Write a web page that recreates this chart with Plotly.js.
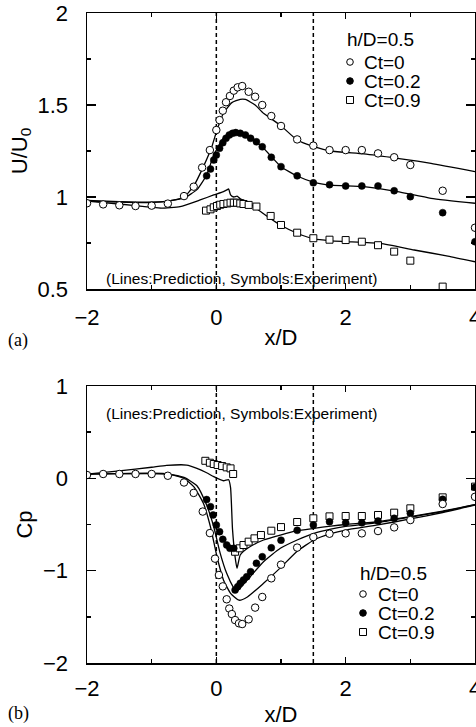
<!DOCTYPE html>
<html>
<head>
<meta charset="utf-8">
<script src="https://cdn.plot.ly/plotly-3.0.1.min.js"></script>
<style>html,body{margin:0;padding:0;background:#fff;overflow:hidden;}#chart{width:476px;height:727px;}</style>
</head>
<body>
<div id="chart"></div>
<script>
// ---------- DATA ----------
// (a) U/U0 experiment
const topCt0X = [-2,-1.75,-1.5,-1.25,-1,-0.75,-0.5,-0.35,-0.22,-0.1,0,0.05,0.1,0.15,0.21,0.27,0.33,0.4,0.5,0.6,0.71,0.85,1.0,1.25,1.5,1.75,2.0,2.25,2.5,2.75,3.0,3.5,4.0];
const topCt0Y = [0.966,0.96,0.955,0.951,0.953,0.964,1.005,1.056,1.16,1.255,1.364,1.418,1.469,1.515,1.549,1.578,1.596,1.603,1.572,1.545,1.50,1.44,1.386,1.313,1.279,1.255,1.255,1.255,1.237,1.216,1.174,1.034,0.833];
const topCt02X = [-0.15,-0.09,-0.04,0,0.05,0.1,0.15,0.2,0.25,0.3,0.37,0.45,0.53,0.62,0.71,0.85,1.0,1.25,1.5,1.75,2.0,2.25,2.5,2.75,3.0,3.5,4.0];
const topCt02Y = [1.115,1.152,1.201,1.228,1.265,1.295,1.319,1.337,1.346,1.35,1.346,1.337,1.319,1.30,1.273,1.216,1.165,1.115,1.077,1.067,1.06,1.06,1.06,1.034,1.002,0.915,0.757];
const topCt09X = [-0.16,-0.09,-0.04,0.01,0.06,0.11,0.17,0.22,0.27,0.32,0.37,0.42,0.5,0.62,0.84,1.0,1.25,1.5,1.75,2.0,2.25,2.5,2.75,3.0,3.5];
const topCt09Y = [0.926,0.933,0.944,0.951,0.958,0.962,0.965,0.969,0.969,0.969,0.965,0.962,0.957,0.948,0.897,0.848,0.806,0.776,0.768,0.766,0.757,0.738,0.703,0.654,0.513];
// (a) U/U0 prediction
const topPredCt0X = [-2,-1.5,-1,-0.75,-0.5,-0.35,-0.2,-0.07,0.01,0.11,0.24,0.37,0.45,0.6,0.73,0.99,1.25,1.51,1.77,2.28,2.8,3.32,4.0];
const topPredCt0Y = [0.978,0.972,0.97,0.977,1.0,1.06,1.165,1.273,1.364,1.455,1.513,1.531,1.53,1.5,1.455,1.39,1.31,1.274,1.25,1.234,1.21,1.183,1.138];
const topPredCt02X = [-2,-1.5,-1,-0.75,-0.5,-0.3,-0.15,-0.04,0.11,0.27,0.4,0.55,0.73,1.0,1.25,1.51,1.77,2.28,2.8,3.32,4.0];
const topPredCt02Y = [0.982,0.975,0.972,0.978,0.995,1.04,1.12,1.228,1.319,1.35,1.345,1.315,1.265,1.165,1.114,1.08,1.065,1.056,1.029,0.993,0.966];
const topPredCt09X = [-2,-1.5,-1,-0.85,-0.56,-0.25,-0.04,0.11,0.17,0.19,0.22,0.27,0.32,0.37,0.48,0.63,0.84,0.99,1.25,1.51,1.77,2.0,2.54,3.06,3.58,4.0];
const topPredCt09Y = [0.978,0.962,0.944,0.94,0.948,0.984,1.011,1.029,1.04,1.044,1.012,1.0,1.005,0.99,0.975,0.935,0.882,0.848,0.803,0.772,0.762,0.758,0.748,0.712,0.679,0.648];

// (b) Cp experiment
const botCt0X = [-2,-1.75,-1.5,-1.25,-1,-0.75,-0.5,-0.35,-0.21,-0.1,-0.02,0.04,0.1,0.16,0.2,0.24,0.29,0.35,0.4,0.5,0.6,0.71,0.85,1.0,1.25,1.5,1.75,2.0,2.25,2.5,2.75,3.0,3.5,4.0];
const botCt0Y = [0.036,0.047,0.047,0.047,0.047,0.028,-0.045,-0.158,-0.36,-0.593,-0.87,-1.047,-1.17,-1.31,-1.41,-1.47,-1.535,-1.57,-1.578,-1.527,-1.40,-1.285,-1.083,-0.935,-0.75,-0.636,-0.60,-0.596,-0.596,-0.571,-0.531,-0.452,-0.278,-0.2];
const botCt02X = [-0.15,-0.09,-0.05,0,0.05,0.1,0.16,0.21,0.27,0.29,0.33,0.37,0.42,0.47,0.53,0.62,0.71,0.85,1.0,1.25,1.5,1.75,2.0,2.25,2.5,2.75,3.0,3.5,4.0];
const botCt02Y = [-0.23,-0.307,-0.397,-0.506,-0.578,-0.661,-0.722,-0.758,-0.758,-1.21,-1.174,-1.137,-1.101,-1.066,-1.011,-0.92,-0.849,-0.752,-0.67,-0.563,-0.506,-0.47,-0.481,-0.481,-0.462,-0.433,-0.379,-0.227,-0.097];
const botCt09X = [-0.17,-0.1,-0.04,0.02,0.09,0.16,0.22,0.26,0.29,0.36,0.42,0.5,0.59,0.69,0.85,1.0,1.25,1.5,1.75,2.0,2.25,2.5,2.75,3.0,3.5,4.0];
const botCt09Y = [0.19,0.169,0.155,0.144,0.133,0.119,0.108,0.047,-0.795,-0.758,-0.722,-0.686,-0.65,-0.614,-0.567,-0.528,-0.473,-0.433,-0.412,-0.408,-0.408,-0.397,-0.372,-0.325,-0.206,-0.09];
// (b) Cp prediction
const botPredCt0X = [-2,-1.5,-1,-0.75,-0.5,-0.35,-0.2,-0.09,0.01,0.11,0.22,0.35,0.48,0.73,0.99,1.25,1.51,1.77,2.0,2.5,3.0,3.5,4.0];
const botPredCt0Y = [0.045,0.052,0.055,0.048,0.0,-0.09,-0.27,-0.527,-0.849,-1.10,-1.245,-1.32,-1.285,-1.137,-0.97,-0.79,-0.668,-0.6,-0.56,-0.505,-0.44,-0.37,-0.29];
const botPredCt02X = [-2,-1.5,-1,-0.75,-0.5,-0.3,-0.15,-0.04,0.06,0.16,0.27,0.31,0.48,0.73,0.99,1.25,1.51,1.77,2.0,2.5,3.0,3.5,4.0];
const botPredCt02Y = [0.045,0.05,0.052,0.046,0.01,-0.08,-0.29,-0.524,-0.812,-1.029,-1.19,-1.228,-1.10,-0.903,-0.758,-0.668,-0.596,-0.55,-0.52,-0.48,-0.42,-0.36,-0.285];
const botPredCt09X = [-2,-1.5,-1,-0.77,-0.46,-0.3,-0.15,-0.04,0.11,0.19,0.22,0.25,0.29,0.32,0.37,0.5,0.73,0.99,1.25,1.51,1.77,2.0,2.5,3.0,3.5,4.0];
const botPredCt09Y = [0.045,0.08,0.12,0.14,0.144,0.108,0.06,0.018,-0.026,-0.015,-0.1,-0.55,-0.85,-0.975,-0.83,-0.75,-0.668,-0.614,-0.567,-0.542,-0.517,-0.50,-0.47,-0.415,-0.355,-0.285];

const refLinesX = [0, 1.5];
const seriesNames = ['Ct=0', 'Ct=0.2', 'Ct=0.9'];
const legendTitle = 'h/D=0.5';
const noteText = '(Lines:Prediction, Symbols:Experiment)';

// ---------- LAYOUT HELPERS ----------
const W = 476, H = 727, ML = 87, MR = 1, MT = 13, MB = 64;
const PW = W - ML - MR, PH = H - MT - MB;
const pX = px => (px - ML) / PW;
const pY = py => (H - MB - py) / PH;

const SANS = 'Liberation Sans, Arial, sans-serif';
const SERIF = 'Liberation Serif, Times New Roman, serif';

const markerStyles = [
  {symbol: 'circle', size: 7.5, color: '#fff', line: {width: 1, color: '#000'}},
  {symbol: 'circle', size: 7, color: '#000', line: {width: 0.5, color: '#000'}},
  {symbol: 'square', size: 7, color: '#fff', line: {width: 1, color: '#000'}}
];

function lineTrace(x, y, xa, ya) {
  return {x, y, xaxis: xa, yaxis: ya, type: 'scatter', mode: 'lines',
    line: {color: '#000', width: 1.3, shape: 'spline', smoothing: 0.5},
    showlegend: false, hoverinfo: 'skip'};
}
function expTrace(x, y, xa, ya, idx) {
  return {x, y, xaxis: xa, yaxis: ya, type: 'scatter', mode: 'markers',
    name: seriesNames[idx], marker: markerStyles[idx], showlegend: false, cliponaxis: true};
}

const data = [
  lineTrace(topPredCt0X, topPredCt0Y, 'x', 'y'),
  lineTrace(topPredCt02X, topPredCt02Y, 'x', 'y'),
  lineTrace(topPredCt09X, topPredCt09Y, 'x', 'y'),
  expTrace(topCt09X, topCt09Y, 'x', 'y', 2),
  expTrace(topCt02X, topCt02Y, 'x', 'y', 1),
  expTrace(topCt0X, topCt0Y, 'x', 'y', 0),
  lineTrace(botPredCt0X, botPredCt0Y, 'x2', 'y2'),
  lineTrace(botPredCt02X, botPredCt02Y, 'x2', 'y2'),
  lineTrace(botPredCt09X, botPredCt09Y, 'x2', 'y2'),
  expTrace(botCt09X, botCt09Y, 'x2', 'y2', 2),
  expTrace(botCt02X, botCt02Y, 'x2', 'y2', 1),
  expTrace(botCt0X, botCt0Y, 'x2', 'y2', 0)
];

function xAxis(anchor, labelStandoff, titleStandoff) {
  return {
    anchor, range: [-2, 4], dtick: 2, tick0: 0,
    ticks: 'inside', ticklen: 6, tickwidth: 1.5, tickcolor: '#000',
    minor: {dtick: 1, ticks: 'inside', ticklen: 4, tickwidth: 1.5, tickcolor: '#000', showgrid: false},
    showline: true, linecolor: '#000', linewidth: 1.5, mirror: 'ticks',
    showgrid: false, zeroline: false,
    tickfont: {family: SANS, size: 22, color: '#000'},
    ticklabelstandoff: labelStandoff,
    ticklabeloverflow: 'allow',
    title: {text: 'x/D', font: {family: SANS, size: 22, color: '#000'}, standoff: titleStandoff}
  };
}
function yAxis(anchor, domain, range, dtick, minorDtick, title) {
  return {
    anchor, domain, range, dtick, tick0: 0,
    ticks: 'inside', ticklen: 9, tickwidth: 1.5, tickcolor: '#000',
    minor: {dtick: minorDtick, ticks: 'inside', ticklen: 4, tickwidth: 1.5, tickcolor: '#000', showgrid: false},
    showline: true, linecolor: '#000', linewidth: 1.5, mirror: 'ticks',
    showgrid: false, zeroline: false,
    tickfont: {family: SANS, size: 22, color: '#000'},
    ticklabelstandoff: 13,
    ticklabeloverflow: 'allow',
    title: {text: title, font: {family: SANS, size: 22, color: '#000'}, standoff: 4}
  };
}

const shapes = [];
['x', 'x2'].forEach((xr, i) => {
  const yr = i === 0 ? 'y domain' : 'y2 domain';
  refLinesX.forEach(v => shapes.push({type: 'line', xref: xr, yref: yr, x0: v, x1: v, y0: 0, y1: 1,
    line: {color: '#000', width: 1.5, dash: '4px,3px'}, layer: 'below'}));
});

const annotations = [];
function addLegend(titleX, titleY, symX, textX, rowsY) {
  annotations.push({xref: 'paper', yref: 'paper', x: pX(titleX), y: pY(titleY), xanchor: 'left', yanchor: 'middle',
    text: legendTitle, showarrow: false, font: {family: SANS, size: 19, color: '#000'}});
  rowsY.forEach((ry, i) => {
    annotations.push({xref: 'paper', yref: 'paper', x: pX(textX), y: pY(ry), xanchor: 'left', yanchor: 'middle',
      text: seriesNames[i], showarrow: false, font: {family: SANS, size: 19, color: '#000'}});
    const s = {xref: 'paper', yref: 'paper', xsizemode: 'pixel', ysizemode: 'pixel',
      xanchor: pX(symX), yanchor: pY(ry), line: {color: '#000', width: 1}};
    if (i === 2) shapes.push(Object.assign({type: 'rect', x0: -3.5, x1: 3.5, y0: -3.5, y1: 3.5, fillcolor: '#fff'}, s));
    else shapes.push(Object.assign({type: 'circle', x0: -3.3, x1: 3.3, y0: -3.3, y1: 3.3,
      fillcolor: i === 1 ? '#000' : 'rgba(0,0,0,0)'}, s));
  });
}
addLegend(345, 40, 350, 362, [62, 81, 100]);
addLegend(358, 573, 363, 376, [594, 613, 632]);

annotations.push({xref: 'paper', yref: 'paper', x: pX(104), y: pY(278), xanchor: 'left', yanchor: 'middle',
  text: noteText, showarrow: false, font: {family: SANS, size: 15.5, color: '#000'}});
annotations.push({xref: 'paper', yref: 'paper', x: pX(104), y: pY(413), xanchor: 'left', yanchor: 'middle',
  text: noteText, showarrow: false, font: {family: SANS, size: 15.5, color: '#000'}});
annotations.push({xref: 'paper', yref: 'paper', x: pX(6), y: pY(340), xanchor: 'left', yanchor: 'middle',
  text: '(a)', showarrow: false, font: {family: SERIF, size: 18, color: '#000'}});
annotations.push({xref: 'paper', yref: 'paper', x: pX(6), y: pY(713), xanchor: 'left', yanchor: 'middle',
  text: '(b)', showarrow: false, font: {family: SERIF, size: 18, color: '#000'}});

const layout = {
  width: W, height: H,
  margin: {l: ML, r: MR, t: MT, b: MB, pad: 0},
  paper_bgcolor: '#fff', plot_bgcolor: '#fff',
  showlegend: false,
  xaxis: xAxis('y', 8, 0),
  yaxis: yAxis('x', [pY(289), 1], [0.5, 2], 0.5, 0.25, 'U/U<sub>0</sub>'),
  xaxis2: xAxis('y2', 5, 6),
  yaxis2: yAxis('x2', [0, pY(386)], [-2, 1], 1, 0.5, 'Cp'),
  shapes, annotations
};

Plotly.newPlot('chart', data, layout, {staticPlot: true, displayModeBar: false});
</script>
</body>
</html>
